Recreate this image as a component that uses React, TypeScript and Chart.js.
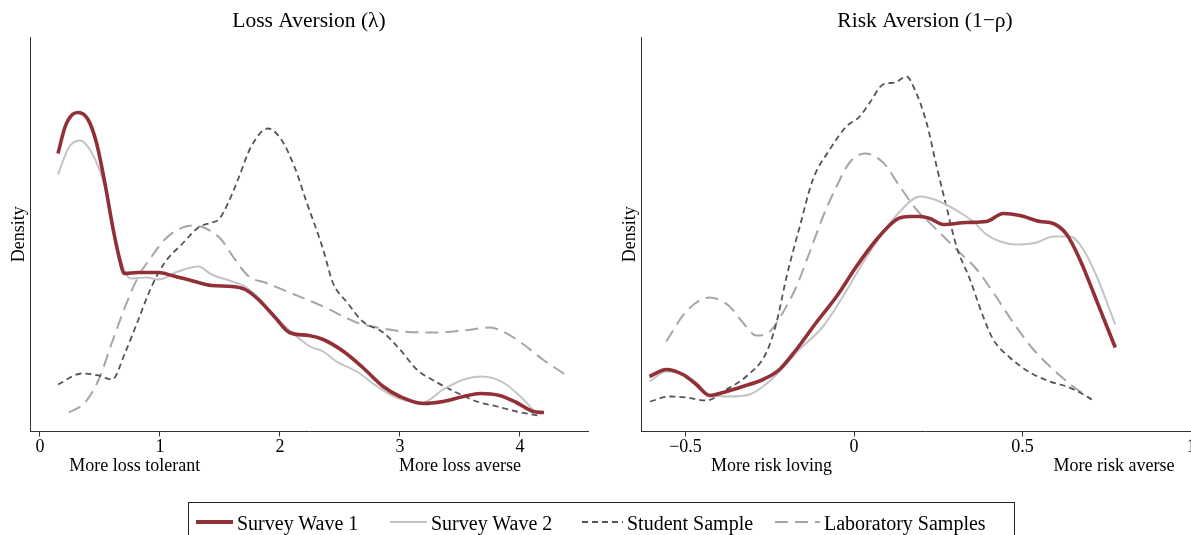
import React, { useEffect, useRef } from "react";
import { Chart, registerables } from "chart.js";

Chart.register(...registerables);

// ---------- data ----------
const seriesNames = ["Survey Wave 1", "Survey Wave 2", "Student Sample", "Laboratory Samples"];

const lossTitle = "Loss Aversion (\u03bb)";
const riskTitle = "Risk Aversion (1\u2212\u03c1)";

const lossTicks = [0, 1, 2, 3, 4];
const riskTicks = [-0.5, 0, 0.5, 1];

const lossNotes = ["More loss tolerant", "More loss averse"];
const lossNoteAt = [0.79, 3.5];
const riskNotes = ["More risk loving", "More risk averse"];
const riskNoteAt = [-0.245, 0.771];

// Loss aversion densities
const lossW1X = [0.15, 0.21, 0.27, 0.32, 0.4, 0.47, 0.54, 0.61, 0.67, 0.7, 0.82, 0.99, 1.1, 1.26, 1.43, 1.6, 1.71, 1.82, 1.96, 2.08, 2.24, 2.36, 2.53, 2.69, 2.86, 3.0, 3.19, 3.36, 3.53, 3.67, 3.83, 3.97, 4.11, 4.2];
const lossW1Y = [2.78, 3.05, 3.17, 3.19, 3.12, 2.89, 2.49, 2.02, 1.69, 1.58, 1.59, 1.59, 1.56, 1.51, 1.46, 1.45, 1.42, 1.32, 1.14, 0.99, 0.96, 0.92, 0.8, 0.64, 0.45, 0.35, 0.28, 0.3, 0.35, 0.38, 0.36, 0.29, 0.2, 0.19];

const lossW2X = [0.15, 0.24, 0.33, 0.43, 0.54, 0.65, 0.71, 0.76, 0.88, 0.99, 1.15, 1.32, 1.43, 1.6, 1.71, 1.82, 1.96, 2.08, 2.25, 2.36, 2.47, 2.64, 2.81, 2.97, 3.19, 3.36, 3.53, 3.68, 3.86, 4.03, 4.14, 4.19];
const lossW2Y = [2.57, 2.84, 2.91, 2.79, 2.45, 1.82, 1.59, 1.53, 1.54, 1.52, 1.6, 1.65, 1.57, 1.5, 1.45, 1.34, 1.15, 1.01, 0.85, 0.8, 0.7, 0.6, 0.45, 0.34, 0.29, 0.42, 0.52, 0.55, 0.49, 0.32, 0.19, 0.18];

const lossStX = [0.15, 0.35, 0.49, 0.6, 0.71, 0.82, 0.93, 1.04, 1.18, 1.32, 1.43, 1.49, 1.57, 1.65, 1.76, 1.9, 2.01, 2.12, 2.22, 2.36, 2.44, 2.56, 2.69, 2.86, 3.0, 3.14, 3.31, 3.47, 3.64, 3.81, 3.97, 4.15];
const lossStY = [0.47, 0.58, 0.56, 0.52, 0.79, 1.12, 1.45, 1.69, 1.87, 2.04, 2.09, 2.12, 2.29, 2.52, 2.85, 3.03, 2.92, 2.65, 2.3, 1.82, 1.49, 1.29, 1.1, 0.99, 0.82, 0.62, 0.49, 0.39, 0.3, 0.25, 0.2, 0.16];

const lossLabX = [0.24, 0.375, 0.49, 0.6, 0.71, 0.82, 0.93, 1.04, 1.15, 1.29, 1.4, 1.51, 1.625, 1.74, 1.875, 2.08, 2.36, 2.64, 2.81, 3.03, 3.31, 3.53, 3.75, 3.86, 4.03, 4.19, 4.39];
const lossLabY = [0.19, 0.29, 0.52, 0.89, 1.25, 1.55, 1.75, 1.92, 2.02, 2.06, 2.02, 1.92, 1.72, 1.55, 1.49, 1.39, 1.25, 1.09, 1.04, 1.0, 0.99, 1.01, 1.04, 1.0, 0.87, 0.72, 0.56];

// Risk aversion densities
const riskW1X = [-0.607, -0.557, -0.508, -0.468, -0.429, -0.389, -0.33, -0.27, -0.221, -0.171, -0.112, -0.052, 0.007, 0.067, 0.126, 0.165, 0.195, 0.225, 0.265, 0.334, 0.393, 0.443, 0.492, 0.552, 0.591, 0.631, 0.67, 0.71, 0.75, 0.775];
const riskW1Y = [0.55, 0.62, 0.57, 0.47, 0.36, 0.39, 0.45, 0.52, 0.62, 0.82, 1.09, 1.35, 1.65, 1.92, 2.12, 2.15, 2.15, 2.13, 2.07, 2.09, 2.1, 2.18, 2.16, 2.1, 2.08, 1.97, 1.72, 1.39, 1.05, 0.84];

const riskW2X = [-0.607, -0.557, -0.508, -0.468, -0.429, -0.369, -0.31, -0.27, -0.221, -0.171, -0.092, -0.033, 0.027, 0.086, 0.136, 0.195, 0.254, 0.314, 0.353, 0.393, 0.433, 0.482, 0.542, 0.591, 0.641, 0.68, 0.72, 0.775];
const riskW2Y = [0.5, 0.6, 0.58, 0.49, 0.37, 0.35, 0.37, 0.45, 0.6, 0.79, 1.05, 1.35, 1.69, 1.99, 2.2, 2.35, 2.3, 2.19, 2.1, 1.97, 1.9, 1.87, 1.89, 1.95, 1.95, 1.82, 1.55, 1.07];

const riskStX = [-0.605, -0.547, -0.498, -0.438, -0.379, -0.32, -0.26, -0.23, -0.2, -0.161, -0.122, -0.072, -0.023, 0.017, 0.047, 0.086, 0.121, 0.156, 0.176, 0.215, 0.245, 0.274, 0.304, 0.344, 0.383, 0.413, 0.462, 0.522, 0.581, 0.631, 0.67, 0.705];
const riskStY = [0.3, 0.35, 0.34, 0.31, 0.42, 0.55, 0.79, 1.09, 1.55, 2.05, 2.52, 2.82, 3.05, 3.15, 3.29, 3.47, 3.49, 3.55, 3.45, 3.09, 2.65, 2.25, 1.85, 1.52, 1.15, 0.92, 0.74, 0.59, 0.5, 0.45, 0.39, 0.32];

const riskLabX = [-0.557, -0.498, -0.429, -0.369, -0.33, -0.29, -0.25, -0.211, -0.171, -0.132, -0.092, -0.052, -0.013, 0.032, 0.086, 0.136, 0.185, 0.245, 0.304, 0.364, 0.413, 0.472, 0.532, 0.591, 0.65, 0.705];
const riskLabY = [0.9, 1.2, 1.34, 1.25, 1.09, 0.96, 1.0, 1.19, 1.45, 1.79, 2.15, 2.45, 2.69, 2.78, 2.69, 2.45, 2.22, 2.02, 1.82, 1.62, 1.39, 1.09, 0.82, 0.62, 0.45, 0.32];

// ---------- styles ----------
const FONT = '"Liberation Serif", "Times New Roman", serif';
const seriesColors = ["#923037", "#c4c4c4", "#555555", "#a6a6a6"];
const seriesWidths = [3.6, 2, 1.8, 2];
const seriesDashes: number[][] = [[], [], [6, 4], [13, 7]];

const toPoints = (xs: number[], ys: number[]) => xs.map((x, i) => ({ x, y: ys[i] }));

const fmt = (v: number) => (v < 0 ? "\u2212" + String(Math.abs(v)) : String(v));

function makeConfig(
  title: string,
  series: { x: number[]; y: number[] }[],
  xMin: number,
  xMax: number,
  ticks: number[],
  notes: string[],
  noteAt: number[],
  padRight: number
): any {
  const notePlugin = {
    id: "notes",
    afterDraw(chart: any) {
      const sx = chart.scales.x;
      const ctx = chart.ctx;
      ctx.save();
      ctx.font = `18px ${FONT}`;
      ctx.fillStyle = "#000";
      ctx.textAlign = "center";
      ctx.textBaseline = "middle";
      notes.forEach((t, i) => ctx.fillText(t, sx.getPixelForValue(noteAt[i]), sx.bottom - 14));
      ctx.restore();
    },
  };
  return {
    type: "line",
    data: {
      datasets: series.map((s, i) => ({
        label: seriesNames[i],
        data: toPoints(s.x, s.y),
        borderColor: seriesColors[i],
        borderWidth: seriesWidths[i],
        borderDash: seriesDashes[i],
        pointRadius: 0,
        fill: false,
        cubicInterpolationMode: "monotone",
        borderCapStyle: "butt",
        borderJoinStyle: "round",
      })),
    },
    options: {
      animation: false,
      responsive: false,
      maintainAspectRatio: false,
      devicePixelRatio: 1,
      layout: { padding: { top: 0, right: padRight, bottom: 0, left: 0 } },
      plugins: {
        legend: { display: false },
        tooltip: { enabled: false },
        title: {
          display: true,
          text: title,
          fullSize: false,
          color: "#000",
          font: { family: FONT, size: 21.5, weight: "normal" },
          padding: { top: 8.6, bottom: 2.6 },
        },
      },
      scales: {
        x: {
          type: "linear",
          min: xMin,
          max: xMax,
          afterBuildTicks: (scale: any) => {
            scale.ticks = ticks.map((v) => ({ value: v }));
          },
          afterFit: (scale: any) => {
            scale.height = 48.5;
            scale.paddingLeft = 0;
            scale.paddingRight = 0;
          },
          grid: {
            display: true,
            drawOnChartArea: false,
            drawTicks: true,
            tickLength: 5,
            tickColor: "#333",
          },
          border: { display: true, color: "#333", width: 1 },
          ticks: {
            color: "#000",
            font: { family: FONT, size: 18 },
            padding: 0,
            maxRotation: 0,
            autoSkip: false,
            callback: (v: number) => fmt(v),
          },
        },
        y: {
          type: "linear",
          min: 0,
          max: 3.945,
          afterFit: (scale: any) => {
            scale.width = 30;
            scale.paddingTop = 0;
            scale.paddingBottom = 0;
          },
          grid: { display: false, drawTicks: false },
          border: { display: true, color: "#333", width: 1 },
          ticks: { display: false },
          title: {
            display: true,
            text: "Density",
            color: "#000",
            font: { family: FONT, size: 18 },
            padding: { top: 8.7, bottom: 0 },
          },
        },
      },
    },
    plugins: [notePlugin],
  };
}

function Panel(props: { config: any; left: number; width: number }) {
  const ref = useRef<HTMLCanvasElement>(null);
  useEffect(() => {
    const chart = new Chart(ref.current as HTMLCanvasElement, props.config);
    return () => chart.destroy();
  }, []);
  return (
    <canvas
      ref={ref}
      width={props.width}
      height={480}
      style={{ position: "absolute", left: props.left, top: 0, width: props.width, height: 480 }}
    />
  );
}

const legendSampleX = [196, 390, 582, 775];
const legendSampleW = [37, 37, 41, 45];

export default function App() {
  const lossConfig = makeConfig(
    lossTitle,
    [
      { x: lossW1X, y: lossW1Y },
      { x: lossW2X, y: lossW2Y },
      { x: lossStX, y: lossStY },
      { x: lossLabX, y: lossLabY },
    ],
    -0.0833,
    4.567,
    lossTicks,
    lossNotes,
    lossNoteAt,
    12
  );
  const riskConfig = makeConfig(
    riskTitle,
    [
      { x: riskW1X, y: riskW1Y },
      { x: riskW2X, y: riskW2Y },
      { x: riskStX, y: riskStY },
      { x: riskLabX, y: riskLabY },
    ],
    -0.632,
    1.053,
    riskTicks,
    riskNotes,
    riskNoteAt,
    2
  );

  return (
    <div
      style={{
        position: "fixed",
        left: 0,
        top: 0,
        width: 1191,
        height: 535,
        overflow: "hidden",
        background: "#fff",
        fontFamily: FONT,
      }}
    >
      <Panel config={lossConfig} left={0} width={600} />
      <Panel config={riskConfig} left={611} width={600} />
      <div
        style={{
          position: "absolute",
          left: 188,
          top: 502,
          width: 827,
          height: 50,
          border: "1px solid #222",
          boxSizing: "border-box",
        }}
      />
      <svg
        width={1191}
        height={535}
        style={{ position: "absolute", left: 0, top: 0, pointerEvents: "none" }}
      >
        {seriesNames.map((n, i) => (
          <line
            key={n}
            x1={legendSampleX[i]}
            x2={legendSampleX[i] + legendSampleW[i]}
            y1={522}
            y2={522}
            stroke={seriesColors[i]}
            strokeWidth={i === 0 ? 4 : 2}
            strokeDasharray={seriesDashes[i].length ? seriesDashes[i].join(" ") : undefined}
          />
        ))}
      </svg>
      {seriesNames.map((n, i) => (
        <div
          key={n}
          style={{
            position: "absolute",
            left: legendSampleX[i] + legendSampleW[i] + 4,
            top: 511,
            height: 24,
            lineHeight: "24px",
            fontSize: 20,
            color: "#000",
            whiteSpace: "nowrap",
          }}
        >
          {n}
        </div>
      ))}
    </div>
  );
}
